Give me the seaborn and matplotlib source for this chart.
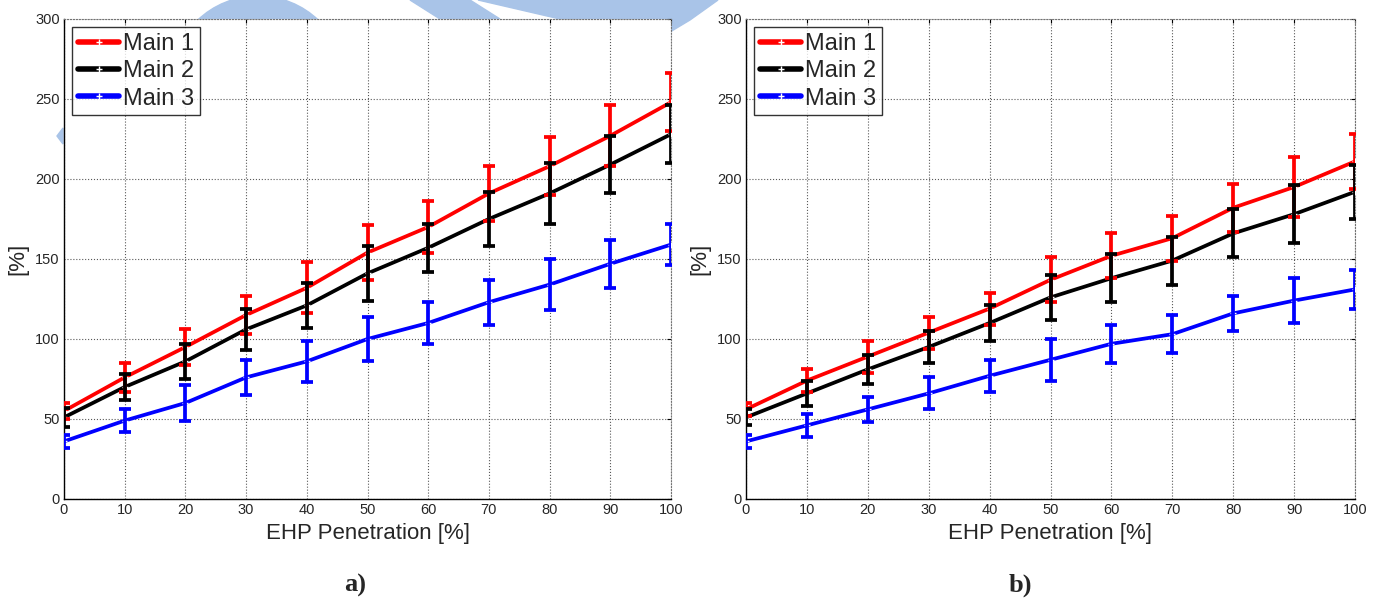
import numpy as np
import pandas as pd
import matplotlib
matplotlib.use('Agg')
import matplotlib.pyplot as plt
import matplotlib.patches as mpatches
import seaborn as sns

sns.set_style('white')
plt.rcParams['font.family'] = ['Liberation Sans', 'DejaVu Sans']

# EHP penetration levels
penetration = [0, 10, 20, 30, 40, 50, 60, 70, 80, 90, 100]
feeders = ['Main 1', 'Main 2', 'Main 3']
colors = {'Main 1': 'red', 'Main 2': 'black', 'Main 3': 'blue'}

# panel a)
a_main1 = [55, 76, 95, 115, 132, 154, 170, 191, 208, 227, 248]
a_main1_err = [5, 9, 11, 12, 16, 17, 16, 17, 18, 19, 18]
a_main2 = [51, 70, 86, 106, 121, 141, 157, 175, 191, 209, 228]
a_main2_err = [6, 8, 11, 13, 14, 17, 15, 17, 19, 18, 18]
a_main3 = [36, 49, 60, 76, 86, 100, 110, 123, 134, 147, 159]
a_main3_err = [4, 7, 11, 11, 13, 14, 13, 14, 16, 15, 13]

# panel b)
b_main1 = [56, 74, 89, 104, 119, 137, 152, 163, 182, 195, 211]
b_main1_err = [4, 7, 10, 10, 10, 14, 14, 14, 15, 19, 17]
b_main2 = [51, 66, 81, 95, 110, 126, 138, 149, 166, 178, 192]
b_main2_err = [5, 8, 9, 10, 11, 14, 15, 15, 15, 18, 17]
b_main3 = [36, 46, 56, 66, 77, 87, 97, 103, 116, 124, 131]
b_main3_err = [4, 7, 8, 10, 10, 13, 12, 12, 11, 14, 12]


def to_frame(vals, errs):
    rows = []
    for name, v, e in zip(feeders, vals, errs):
        for x, y, err in zip(penetration, v, e):
            rows.append({'EHP': x, 'value': y, 'err': err, 'feeder': name})
    return pd.DataFrame(rows)


df_a = to_frame([a_main1, a_main2, a_main3], [a_main1_err, a_main2_err, a_main3_err])
df_b = to_frame([b_main1, b_main2, b_main3], [b_main1_err, b_main2_err, b_main3_err])

fig = plt.figure(figsize=(13.74, 5.98), dpi=100)

# light blue watermark shapes from the source document (behind the charts)
wm = '#a9c4e8'
W, H = 1374.0, 598.0
def fp(pts):
    return [(x / W, 1 - y / H) for x, y in pts]
shapes = [
    mpatches.Ellipse((258 / W, 1 - 80 / H), 172 / W, 168 / H),
    mpatches.Polygon(fp([(410, 0), (470, 0), (500, 19), (440, 19)]), closed=True),
    mpatches.Polygon(fp([(478, 0), (700, 0), (718, 0), (690, 20), (665, 35),
                         (672, 19), (560, 19)]), closed=True),
    mpatches.Polygon(fp([(57, 136), (63, 128), (63, 144)]), closed=True),
    mpatches.Polygon(fp([(690, 0), (712, 0), (690, 16)]), closed=True),
]
for p in shapes:
    p.set_color(wm)
    p.set_transform(fig.transFigure)
    p.set_zorder(-5)
    fig.patches.append(p)

ax1 = fig.add_axes([64 / W, 1 - 499 / H, 607 / W, 480 / H])
ax2 = fig.add_axes([746 / W, 1 - 499 / H, 609 / W, 480 / H])

for ax, df, tag, tx in [(ax1, df_a, 'a)', 355 / W), (ax2, df_b, 'b)', 1020 / W)]:
    ax.set_facecolor('white')
    sns.lineplot(data=df, x='EHP', y='value', hue='feeder', palette=colors,
                 linewidth=2.7, marker='+', markersize=5, markeredgewidth=1,
                 ax=ax, legend=True, zorder=3)
    for name in feeders:
        sub = df[df['feeder'] == name]
        ax.errorbar(sub['EHP'], sub['value'], yerr=sub['err'], fmt='none',
                    ecolor=colors[name], elinewidth=2.7, capsize=4.2, capthick=2.7, zorder=3)

    ax.set_xlim(0, 100)
    ax.set_ylim(0, 300)
    ax.set_xticks(penetration)
    ax.set_yticks([0, 50, 100, 150, 200, 250, 300])
    ax.grid(True, linestyle=':', color='0.35', linewidth=0.8)
    ax.tick_params(axis='both', direction='in', length=3, labelsize=10.5, pad=3,
                   top=True, right=True, color='black')
    for s in ['top', 'right']:
        ax.spines[s].set_linestyle(':')
        ax.spines[s].set_color('0.45')
        ax.spines[s].set_linewidth(0.8)
    for s in ['left', 'bottom']:
        ax.spines[s].set_color('black')
        ax.spines[s].set_linewidth(1.0)
    ax.set_xlabel('EHP Penetration [%]', fontsize=16, labelpad=4)
    ax.set_ylabel('[%]', fontsize=16, labelpad=5)

    leg = ax.legend(loc='upper left', fontsize=17, frameon=True, fancybox=False,
                    borderaxespad=0.35, handlelength=1.75, handletextpad=0.15,
                    labelspacing=0.22, borderpad=0.25)
    leg.get_frame().set_edgecolor('black')
    leg.get_frame().set_linewidth(1.0)
    for line in leg.get_lines():
        line.set_linewidth(4)

    fig.text(tx, 1 - 585 / H, tag, ha='center', va='center', fontsize=19,
             fontweight='bold', family='Liberation Serif')

fig.savefig('out.png', dpi=100, facecolor='white')
